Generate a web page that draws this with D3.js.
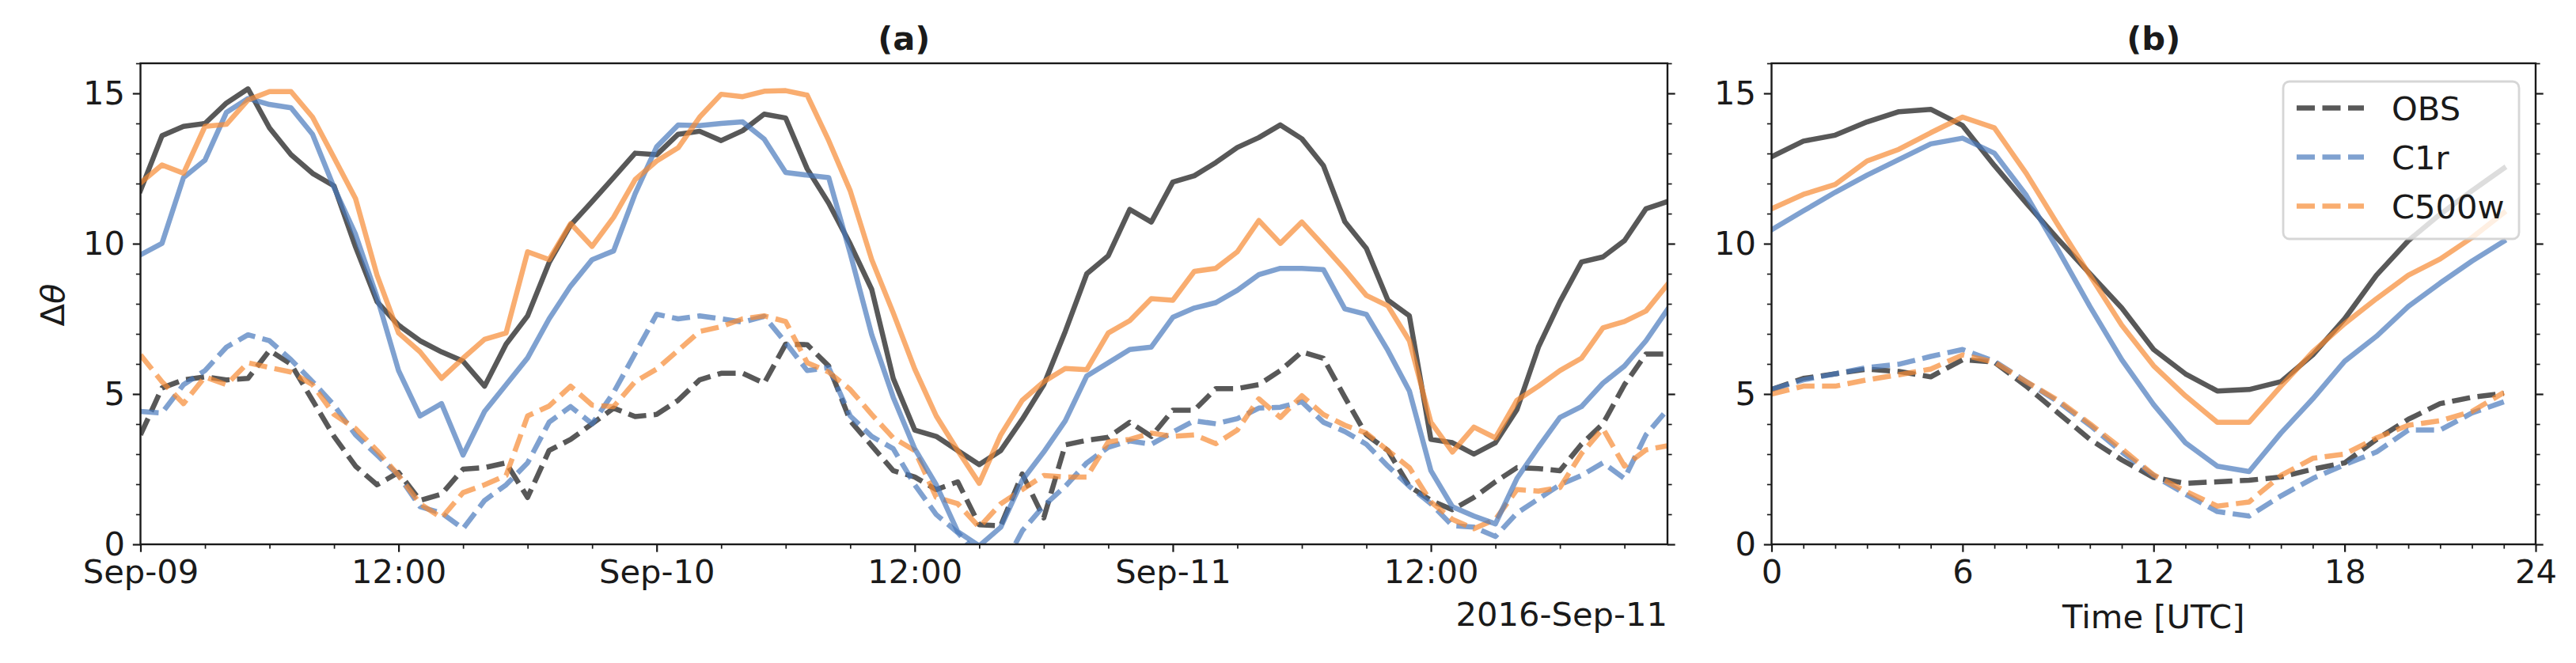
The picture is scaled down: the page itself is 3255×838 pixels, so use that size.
<!DOCTYPE html>
<html>
<head>
<meta charset="utf-8">
<script src="https://cdn.jsdelivr.net/npm/d3@7/dist/d3.min.js"></script>
<style>
  html, body { margin: 0; padding: 0; background: #ffffff; }
  svg { display: block; }
  text { font-family: "DejaVu Sans", sans-serif; fill: #1a1a1a; }
</style>
</head>
<body>
<svg id="chart" width="3255" height="838"></svg>
<script>
// ---------------- DATA ----------------
// Panel (a): hourly values, 2016-09-09 00:00 ... 2016-09-11 23:00 (72 points)
const hoursA = d3.range(0, 72);
const obsSolidA = [11.77,13.59,13.9,14.0,14.68,15.15,13.85,12.96,12.34,11.92,9.89,8.07,7.29,6.77,6.40,6.09,5.26,6.66,7.6,
  9.37,10.62,11.4,12.2,13.01,12.96,13.64,13.74,13.43,13.76,14.31,14.18,12.49,11.35,9.99,8.48,5.52,
  3.8,3.59,3.12,2.65,3.12,4.16,5.31,7.08,9.0,9.6,11.14,10.72,12.05,12.26,12.7,13.2,13.53,13.95,
  13.49,12.6,10.73,9.84,8.12,7.6,3.49,3.38,3.0,3.38,4.48,6.56,8.07,9.39,9.56,10.1,11.16,11.4];
const c1rSolidA = [9.63,10.01,12.2,12.78,14.37,14.83,14.63,14.52,13.64,11.87,10.31,8.22,5.78,4.27,4.68,2.97,4.42,5.31,6.2,
  7.5,8.59,9.47,9.76,11.66,13.22,13.95,13.93,14.0,14.05,13.48,12.37,12.28,12.2,9.68,6.97,4.89,
  3.18,1.98,0.42,-0.05,0.57,2.13,3.07,4.11,5.6,6.04,6.48,6.56,7.55,7.86,8.04,8.45,8.97,9.18,
  9.18,9.14,7.83,7.65,6.45,5.1,2.45,1.25,0.94,0.68,2.19,3.23,4.22,4.58,5.36,5.93,6.77,7.81];
const c500wSolidA = [12.02,12.62,12.34,13.9,13.97,14.78,15.06,15.06,14.21,12.86,11.5,8.95,7.03,6.40,5.52,6.19,6.82,7.03,9.73,
  9.47,10.67,9.91,10.88,12.13,12.75,13.19,14.21,14.97,14.89,15.07,15.09,14.94,13.43,11.76,9.47,7.7,
  5.83,4.27,3.12,2.03,3.64,4.79,5.41,5.85,5.81,7.03,7.44,8.17,8.12,9.08,9.18,9.73,10.77,10.01,
  10.72,9.94,9.14,8.28,7.93,6.77,4.06,3.07,3.9,3.54,4.79,5.26,5.78,6.19,7.2,7.41,7.76,8.64];
const obsDashedA = [3.64,5.2,5.47,5.57,5.47,5.52,6.45,5.99,4.79,3.59,2.6,1.98,2.39,1.46,1.67,2.5,2.55,2.71,1.56,
  3.12,3.49,4.01,4.53,4.25,4.32,4.79,5.47,5.69,5.69,5.36,6.66,6.64,5.93,4.11,3.28,2.45,
  2.24,1.82,2.08,0.65,0.62,2.34,0.88,3.31,3.46,3.56,4.06,3.59,4.46,4.46,5.18,5.18,5.31,5.78,
  6.4,6.19,4.89,3.64,3.12,1.93,1.46,1.15,1.56,2.08,2.55,2.52,2.45,3.33,4.01,5.31,6.33,6.33];
const c1rDashedA = [4.42,4.37,5.31,5.78,6.56,6.97,6.77,6.14,5.41,4.63,3.64,2.97,2.29,1.25,1.04,0.52,1.46,1.98,2.71,
  4.06,4.58,4.01,5.05,6.35,7.65,7.5,7.6,7.5,7.39,7.58,6.71,5.78,5.88,4.27,3.59,3.18,
  1.98,0.99,0.39,-0.4,-0.9,0.45,1.28,1.93,2.71,3.23,3.44,3.33,3.73,4.11,4.01,4.18,4.53,4.56,
  4.74,4.06,3.75,3.33,2.6,1.93,1.35,0.62,0.57,0.26,1.04,1.51,1.98,2.29,2.71,2.19,3.64,4.48];
const c500wDashedA = [6.30,5.41,4.68,5.57,5.31,6.04,5.88,5.73,5.31,4.32,3.85,3.12,2.29,1.35,0.88,1.72,1.98,2.29,4.27,
  4.6,5.26,4.63,4.58,5.41,5.83,6.45,7.08,7.24,7.5,7.6,7.41,6.04,5.73,5.15,4.32,3.54,
  3.12,1.56,1.35,0.57,1.35,1.82,2.29,2.24,2.24,3.41,3.49,3.7,3.59,3.64,3.35,3.8,4.84,4.22,
  4.94,4.32,3.96,3.7,3.12,2.55,1.41,0.83,0.52,0.83,1.82,1.77,1.89,3.02,3.85,2.6,3.14,3.28];

// Panel (b): diurnal cycle, hours 0..23 UTC
const hoursB = d3.range(0, 24);
const obsSolidB = [12.89,13.41,13.61,14.05,14.39,14.47,13.93,12.6,11.35,10.15,9.0,7.86,6.48,5.67,5.1,5.15,5.41,6.3,7.5,8.95,10.1,10.98,11.76,12.51];
const c1rSolidB = [10.46,11.09,11.71,12.28,12.8,13.32,13.51,13.01,11.61,9.79,7.91,6.14,4.65,3.38,2.6,2.42,3.7,4.84,6.09,6.92,7.91,8.69,9.42,10.08];
const c500wSolidB = [11.16,11.64,11.97,12.75,13.14,13.69,14.21,13.85,12.34,10.62,8.95,7.29,5.94,4.94,4.06,4.06,5.26,6.4,7.34,8.17,8.95,9.49,10.2,11.03];
const obsDashedB = [5.15,5.52,5.67,5.83,5.75,5.57,6.14,6.06,5.26,4.37,3.49,2.81,2.22,2.03,2.08,2.13,2.24,2.5,2.71,3.49,4.16,4.68,4.89,5.02];
const c1rDashedB = [5.15,5.47,5.67,5.88,5.99,6.25,6.48,6.09,5.41,4.74,3.96,3.07,2.29,1.67,1.09,0.94,1.61,2.19,2.65,3.07,3.8,3.8,4.37,4.74];
const c500wDashedB = [5.0,5.26,5.26,5.47,5.64,5.83,6.3,6.06,5.41,4.79,4.01,3.18,2.31,1.77,1.27,1.41,2.29,2.86,3.0,3.54,3.96,4.11,4.42,5.05];

// Tick values / labels
const yMajorTicks = [0, 5, 10, 15];
const yMinorTicks = [1,2,3,4,6,7,8,9,11,12,13,14,16];
const xMajorTicksA = [0, 12, 24, 36, 48, 60];
const xMajorLabelsA = ["Sep-09", "12:00", "Sep-10", "12:00", "Sep-11", "12:00"];
const xMinorTicksA = [3,6,9,15,18,21,27,30,33,39,42,45,51,54,57,63,66,69];
const xMajorTicksB = [0, 6, 12, 18, 24];
const xMinorTicksB = d3.range(1, 24).filter(h => h % 6 !== 0);

const seriesNames = ["OBS", "C1r", "C500w"];
const seriesColors = ["#111111", "#4879bc", "#f68a33"];

// ---------------- LAYOUT ----------------
const svg = d3.select("#chart");
const FS = 41.67;
const LW = 6.5;
const DASH = "23,9.5";
const OPA = 0.7;
const topY = 80, bottomY = 688;
const axA = { left: 177.5, right: 2107 };
const axB = { left: 2238.5, right: 3204 };

const y = d3.scaleLinear().domain([0, 16]).range([bottomY, topY]);
const xA = d3.scaleLinear().domain([0, 71]).range([axA.left, axA.right]);
const xB = d3.scaleLinear().domain([0, 24]).range([axB.left, axB.right]);

const defs = svg.append("defs");
function makeClip(id, ax) {
  defs.append("clipPath").attr("id", id).append("rect")
    .attr("x", ax.left).attr("y", topY).attr("width", ax.right - ax.left).attr("height", bottomY - topY);
}
makeClip("clipA", axA); makeClip("clipB", axB);

function drawLines(xs, xScale, sets, clipId) {
  const g = svg.append("g").attr("clip-path", `url(#${clipId})`);
  sets.forEach(s => {
    const line = d3.line().x((d, i) => xScale(xs[i])).y(d => y(d));
    g.append("path").datum(s.values)
      .attr("d", line)
      .attr("fill", "none")
      .attr("stroke", s.color)
      .attr("stroke-opacity", OPA)
      .attr("stroke-width", LW)
      .attr("stroke-linejoin", "round")
      .attr("stroke-linecap", s.dashed ? "butt" : "square")
      .attr("stroke-dasharray", s.dashed ? DASH : null);
  });
}

function drawAxes(ax, xScale, xMajor, xLabels, xMinor) {
  const g = svg.append("g");
  const gyl = g.append("g").attr("transform", `translate(${ax.left},0)`)
    .call(d3.axisLeft(y).tickValues(yMajorTicks).tickSize(9.7).tickPadding(9.7).tickFormat(d3.format("d")));
  const gyr = g.append("g").attr("transform", `translate(${ax.right},0)`)
    .call(d3.axisRight(y).tickValues(yMajorTicks).tickSize(9.7).tickFormat(""));
  const gylm = g.append("g").attr("transform", `translate(${ax.left},0)`)
    .call(d3.axisLeft(y).tickValues(yMinorTicks).tickSize(5.6).tickFormat(""));
  const gyrm = g.append("g").attr("transform", `translate(${ax.right},0)`)
    .call(d3.axisRight(y).tickValues(yMinorTicks).tickSize(5.6).tickFormat(""));
  const gxb = g.append("g").attr("transform", `translate(0,${bottomY})`)
    .call(d3.axisBottom(xScale).tickValues(xMajor).tickSize(9.7).tickPadding(9.7)
      .tickFormat((d, i) => xLabels[i]));
  const gxbm = g.append("g").attr("transform", `translate(0,${bottomY})`)
    .call(d3.axisBottom(xScale).tickValues(xMinor).tickSize(5.6).tickFormat(""));
  [gyl, gyr, gxb].forEach(s => s.selectAll(".tick line").attr("stroke", "#1a1a1a").attr("stroke-width", 2.2));
  [gylm, gyrm, gxbm].forEach(s => s.selectAll(".tick line").attr("stroke", "#1a1a1a").attr("stroke-width", 1.7));
  [gyl, gyr, gylm, gyrm, gxb, gxbm].forEach(s => s.select(".domain").remove());
  g.selectAll(".tick text").attr("font-size", FS).attr("font-family", "DejaVu Sans").attr("fill", "#1a1a1a");
  g.append("rect").attr("x", ax.left).attr("y", topY)
    .attr("width", ax.right - ax.left).attr("height", bottomY - topY)
    .attr("fill", "none").attr("stroke", "#1a1a1a").attr("stroke-width", 2.4);
}

// ---------------- PANEL A ----------------
drawLines(hoursA, xA, [
  { values: obsDashedA, color: seriesColors[0], dashed: true },
  { values: c1rDashedA, color: seriesColors[1], dashed: true },
  { values: c500wDashedA, color: seriesColors[2], dashed: true },
  { values: obsSolidA, color: seriesColors[0], dashed: false },
  { values: c1rSolidA, color: seriesColors[1], dashed: false },
  { values: c500wSolidA, color: seriesColors[2], dashed: false }
], "clipA");
drawAxes(axA, xA, xMajorTicksA, xMajorLabelsA, xMinorTicksA);

svg.append("text").attr("x", (axA.left + axA.right) / 2).attr("y", 63)
  .attr("text-anchor", "middle").attr("font-size", FS).attr("font-weight", "bold").text("(a)");
svg.append("text").attr("x", axA.right).attr("y", 791)
  .attr("text-anchor", "end").attr("font-size", FS).text("2016-Sep-11");
// y label: upright Δ followed by italic θ (two separate texts, rotated)
const yMid = (topY + bottomY) / 2;
svg.append("text").attr("transform", `translate(81,${yMid}) rotate(-90)`)
  .attr("text-anchor", "end").attr("font-size", FS).text("Δ");
svg.append("text").attr("transform", `translate(81,${yMid}) rotate(-90)`)
  .attr("text-anchor", "start").attr("font-size", FS).attr("font-style", "italic").text("θ");

// ---------------- PANEL B ----------------
drawLines(hoursB, xB, [
  { values: obsDashedB, color: seriesColors[0], dashed: true },
  { values: c1rDashedB, color: seriesColors[1], dashed: true },
  { values: c500wDashedB, color: seriesColors[2], dashed: true },
  { values: obsSolidB, color: seriesColors[0], dashed: false },
  { values: c1rSolidB, color: seriesColors[1], dashed: false },
  { values: c500wSolidB, color: seriesColors[2], dashed: false }
], "clipB");
drawAxes(axB, xB, xMajorTicksB, xMajorTicksB.map(String), xMinorTicksB);

svg.append("text").attr("x", (axB.left + axB.right) / 2).attr("y", 63)
  .attr("text-anchor", "middle").attr("font-size", FS).attr("font-weight", "bold").text("(b)");
svg.append("text").attr("x", (axB.left + axB.right) / 2).attr("y", 794)
  .attr("text-anchor", "middle").attr("font-size", FS).text("Time [UTC]");

// ---------------- LEGEND ----------------
const lg = svg.append("g");
lg.append("rect").attr("x", 2885).attr("y", 103).attr("width", 298).attr("height", 199)
  .attr("rx", 8).attr("ry", 8)
  .attr("fill", "#ffffff").attr("fill-opacity", 0.8)
  .attr("stroke", "#cccccc").attr("stroke-opacity", 0.8).attr("stroke-width", 2.8);
seriesNames.forEach((name, i) => {
  const ly = 136.5 + i * 62;
  lg.append("line").attr("x1", 2902).attr("x2", 2987).attr("y1", ly).attr("y2", ly)
    .attr("stroke", seriesColors[i]).attr("stroke-opacity", OPA)
    .attr("stroke-width", LW).attr("stroke-dasharray", DASH);
  lg.append("text").attr("x", 3022).attr("y", ly + 15).attr("font-size", FS).text(name);
});
</script>
</body>
</html>
